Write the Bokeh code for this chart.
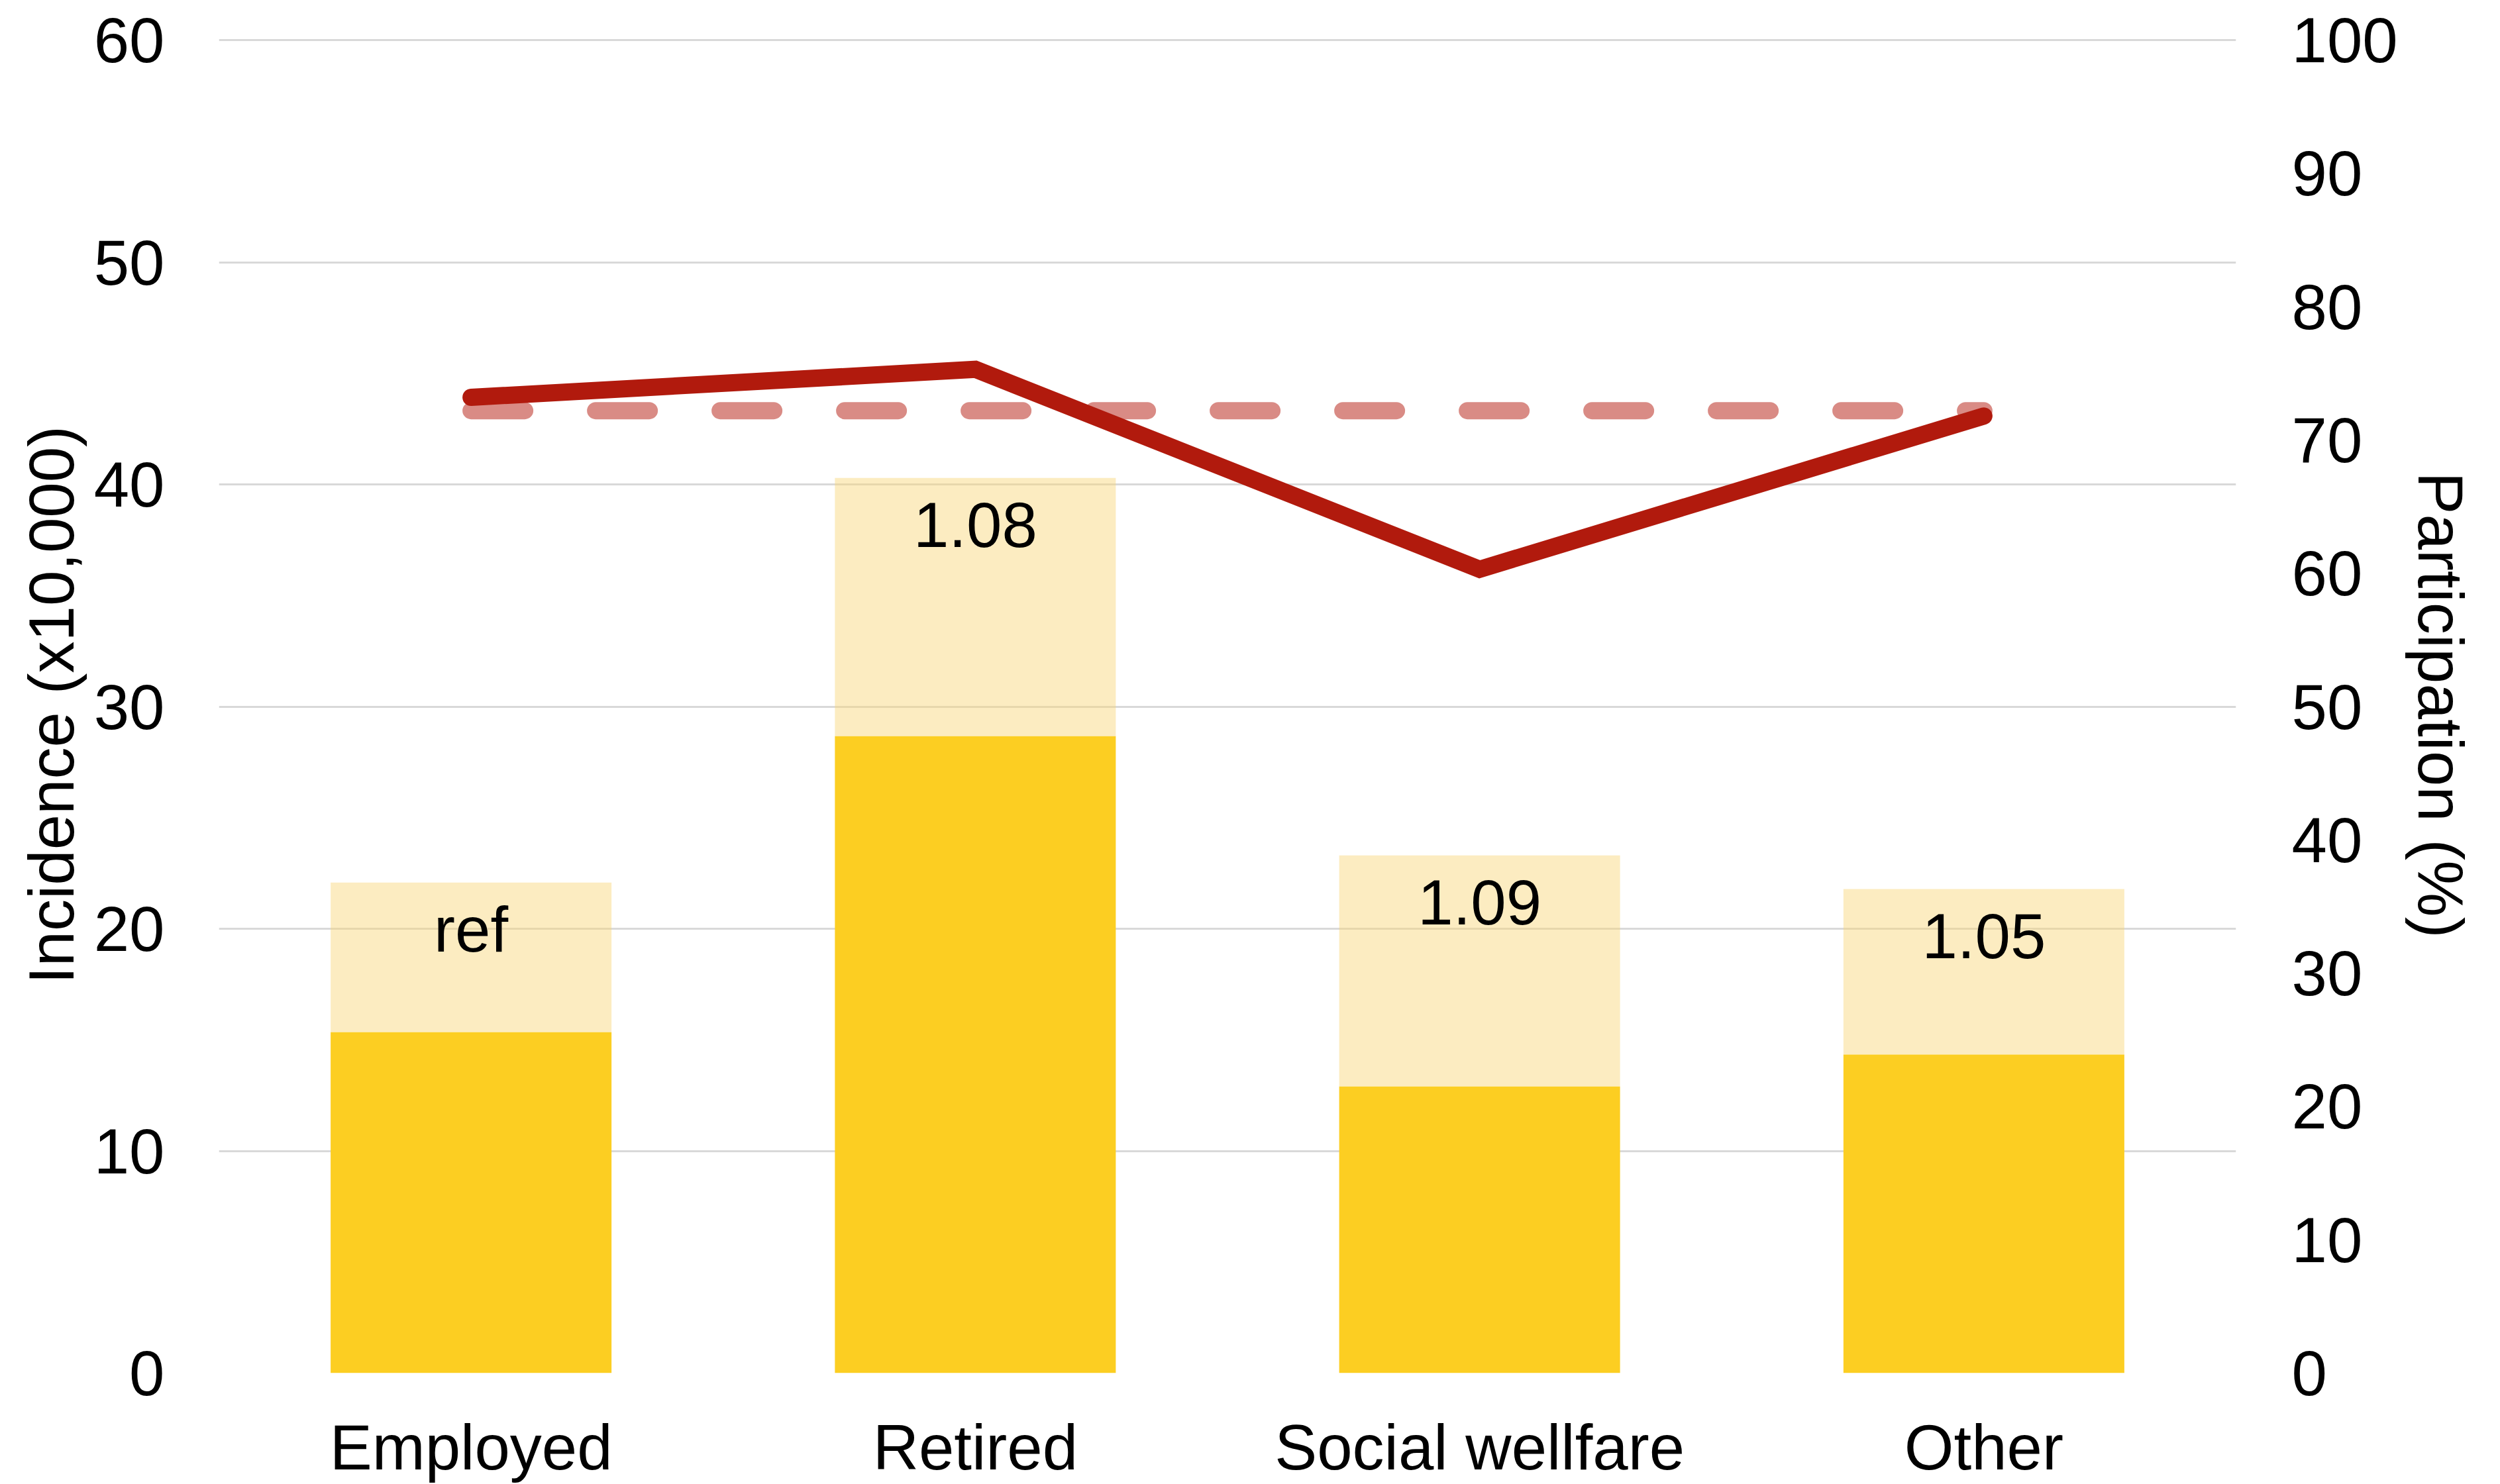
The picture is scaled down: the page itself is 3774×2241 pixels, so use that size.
from bokeh.plotting import figure
from bokeh.models import (FactorRange, Range1d, LinearAxis, SingleIntervalTicker,
                          ColumnDataSource)
from bokeh.core.properties import value
from bokeh.embed import file_html
from bokeh.resources import INLINE

# ---- data ----
categories = ["Employed", "Retired", "Social wellfare", "Other"]
incidence_dark = [15.34, 28.67, 12.90, 14.34]
incidence_total = [22.08, 40.29, 23.30, 21.79]
bar_labels = ["ref", "1.08", "1.09", "1.05"]
participation = [73.2, 75.3, 60.3, 71.8]
participation_ref = [72.2, 72.2, 72.2, 72.2]

FONT = "Liberation Sans"
FS = "96px"

W, H = 3774, 2241
LEFT, RIGHT, TOP, BOTTOM = 330, 399, 55, 166

p = figure(x_range=FactorRange(factors=categories, range_padding=0),
           y_range=Range1d(0, 60.15),
           width=W, height=H,
           output_backend="svg", toolbar_location=None,
           min_border_left=LEFT, min_border_right=RIGHT,
           min_border_top=TOP, min_border_bottom=BOTTOM)
p.extra_y_ranges = {"pct": Range1d(0, 100.25)}
p.outline_line_color = None
p.background_fill_color = "white"
p.border_fill_color = "white"

src = ColumnDataSource(dict(cat=categories, dark=incidence_dark, total=incidence_total,
                            lab=bar_labels, part=participation, pref=participation_ref))

# bars
p.vbar(x="cat", bottom="dark", top="total", width=0.557, source=src,
       fill_color="#F8D575", fill_alpha=0.45, line_color=None)
p.vbar(x="cat", bottom=0, top="dark", width=0.557, source=src,
       fill_color="#FCCE22", line_color=None)

# bar labels
p.text(x="cat", y="total", text="lab", source=src, y_offset=71,
       text_align="center", text_baseline="middle",
       text_font=value(FONT), text_font_size=FS, text_color="black")

# participation lines
p.line(x="cat", y="pref", source=src, y_range_name="pct",
       line_color="#D98B85", line_width=26, line_dash="81 107", line_cap="round")
p.line(x="cat", y="part", source=src, y_range_name="pct",
       line_color="#B11A0D", line_width=26, line_cap="round", line_join="miter")

# axes
p.xgrid.grid_line_color = None
p.ygrid.grid_line_color = "#D9D9D9"
p.ygrid.grid_line_width = 3

p.yaxis.ticker = SingleIntervalTicker(interval=10)
ax_r = LinearAxis(y_range_name="pct", ticker=SingleIntervalTicker(interval=10))
p.add_layout(ax_r, "right")

p.yaxis[0].axis_label = "Incidence (x10,000)"
ax_r.axis_label = "Participation (%)"

for ax in [p.xaxis[0], p.yaxis[0], ax_r]:
    ax.axis_line_color = None
    ax.major_tick_line_color = None
    ax.minor_tick_line_color = None
    ax.major_tick_out = 0
    ax.major_tick_in = 0
    ax.minor_tick_out = 0
    ax.minor_tick_in = 0
    ax.major_label_text_font = FONT
    ax.major_label_text_font_size = FS
    ax.major_label_text_color = "black"
    ax.axis_label_text_font = FONT
    ax.axis_label_text_font_size = FS
    ax.axis_label_text_font_style = "normal"
    ax.axis_label_text_color = "black"

p.yaxis[0].major_label_standoff = 82
p.yaxis[0].axis_label_standoff = 8
ax_r.major_label_standoff = 84
ax_r.axis_label_standoff = 8
p.xaxis[0].major_label_standoff = 58

open("out.html", "w").write(file_html(p, INLINE))
